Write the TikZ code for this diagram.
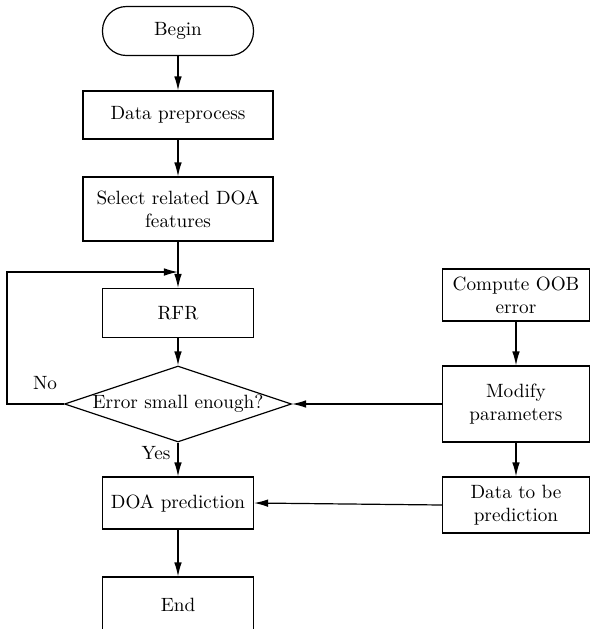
\documentclass[tikz,border=0pt]{standalone}
\usepackage{tikz}
\usetikzlibrary{shapes.geometric,arrows.meta}

\begin{document}
\begin{tikzpicture}[x=0.5pt,y=-0.5pt,
  font=\fontsize{9.6}{11.5}\selectfont,
  >={Latex[length=7pt,width=3.8pt]},
  every path/.style={line width=0.6pt},
  proc/.style={draw, rectangle, align=center, inner sep=1pt, minimum width=75.5pt, minimum height=#1},
  proc/.default=25pt,
  term/.style={draw, rectangle, rounded corners=12pt, minimum width=75.5pt, minimum height=24.5pt},
  test/.style={draw, diamond, inner sep=0pt, minimum width=113.5pt, minimum height=38pt}]

\useasboundingbox (0,0) rectangle (590,629);

% Draw main column
\node[term] (begin) at (178,31) {Begin};
\node[proc=24pt, minimum width=95pt] (prep) at (178,115) {Data preprocess};
\node[proc=32pt, minimum width=95pt] (sel) at (178,209) {Select related DOA\\features};
\node[proc=24.5pt] (rfr) at (178,313) {RFR};
\node[test] (err) at (178,404) {\makebox[0pt]{Error small enough?}};
\node[proc=26pt] (doa) at (178,503) {DOA prediction};
\node[draw, rectangle, minimum width=75.5pt, minimum height=28pt] (end) at (178,605) {End};

% Draw side column
\node[proc=26pt, minimum width=73.5pt] (oob) at (516,295) {Compute OOB\\error};
\node[proc=38pt, minimum width=73.5pt] (mod) at (516,404) {Modify\\parameters};
\node[proc=28pt, minimum width=73.5pt] (dat) at (516,505) {Data to be\\prediction};

% Loop points
\coordinate (join) at (178,272);
\coordinate (loopc) at (7,404);

% Draw flow
\draw[->] (begin) -- (prep);
\draw[->] (prep) -- (sel);
\draw[->] (sel) -- (rfr);
\draw[->] (rfr) -- (err);
\draw[->] (err) -- (doa);
\draw[->] (doa) -- (end);
\draw[->] (err.west) -- (loopc) |- (join);

\draw[->] (oob) -- (mod);
\draw[->] (mod) -- (dat);
\draw[->] (mod.west) -- (err.east);
\draw[->] (dat.west) -- (doa.east);

% Annotations
\node (no) at (45,383) {No};
\node (yes) at (156,453) {Yes};

\end{tikzpicture}
\end{document}
